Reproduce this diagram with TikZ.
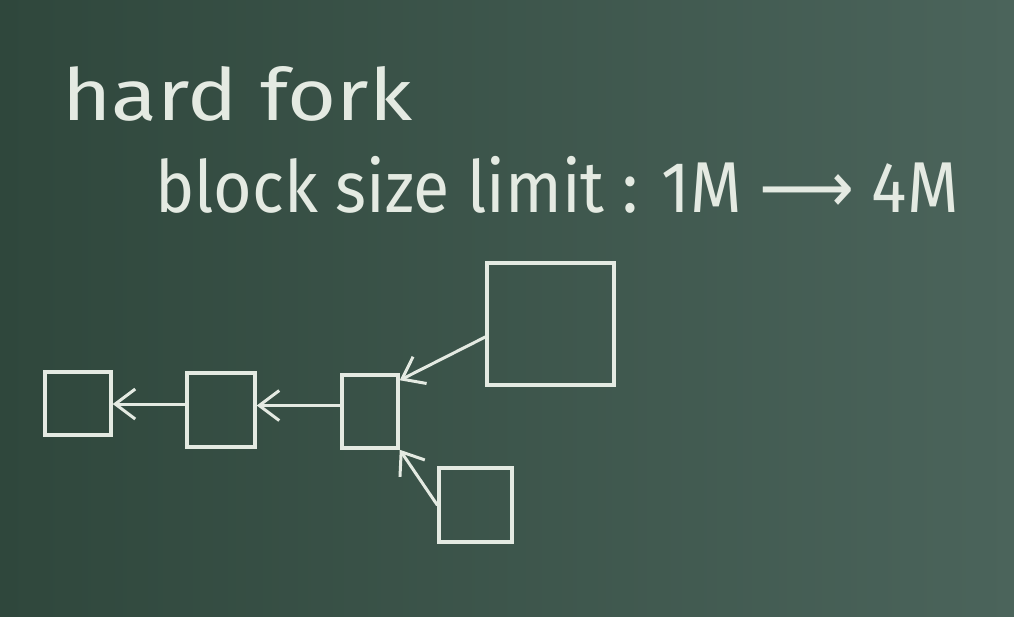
\documentclass[tikz,border=0pt]{standalone}
\usepackage{fontspec}
\setmainfont{Fira Sans}
\newfontfamily\arrowfont{DejaVu Sans}
\usetikzlibrary{arrows.meta}
\definecolor{board}{HTML}{2F473C}
\definecolor{boardlight}{HTML}{4B645B}
\definecolor{chalk}{HTML}{E4EAE2}

\begin{document}
\begin{tikzpicture}[x=1pt,y=-1pt,
    chalkbox/.style={draw=chalk,line width=3.5pt,rectangle,inner sep=0pt},
    chalkarrow/.style={draw=chalk,line width=3pt,line cap=round,
        -{Straight Barb[length=20pt,width=30pt,line width=3pt]}},
    chalktext/.style={text=chalk,inner sep=0pt,font=\fontsize{72}{80}\selectfont}]

% Board
\shade[left color=board,right color=boardlight] (0,0) rectangle (1014,616);
\useasboundingbox (0,0) rectangle (1014,616);

% Title
\node[chalktext,anchor=base west] (title) at (62,120)
    {\scalebox{1.17}[1]{hard fork}};
\node[chalktext,anchor=base west] (limit) at (155,212)
    {\scalebox{0.92}[1]{block size limit : 1M {\arrowfont ⟶} 4M}};

% Blocks
\node[chalkbox,minimum width=66pt,minimum height=63pt] (block1) at (78,403.5) {};
\node[chalkbox,minimum width=68pt,minimum height=74pt] (block2) at (221,410) {};
\node[chalkbox,minimum width=56pt,minimum height=73pt] (block3) at (370,411.5) {};

% Fork
\node[chalkbox,minimum width=127pt,minimum height=122pt] (bigblock) at (550.5,324) {};
\node[chalkbox,minimum width=73pt,minimum height=74pt] (smallblock) at (475.5,505) {};

% Hash pointers
\draw[chalkarrow] ([yshift=6pt]block2.west) -- ([yshift=6pt]block1.east |- block2.west);
\draw[chalkarrow] ([yshift=6pt]block3.west) -- ([yshift=6pt]block2.east |- block3.west);
\draw[chalkarrow] ([yshift=-13pt]bigblock.west) -- ([yshift=-7pt]block3.north east);
\draw[chalkarrow] (smallblock.west) -- (block3.south east);

\end{tikzpicture}
\end{document}
